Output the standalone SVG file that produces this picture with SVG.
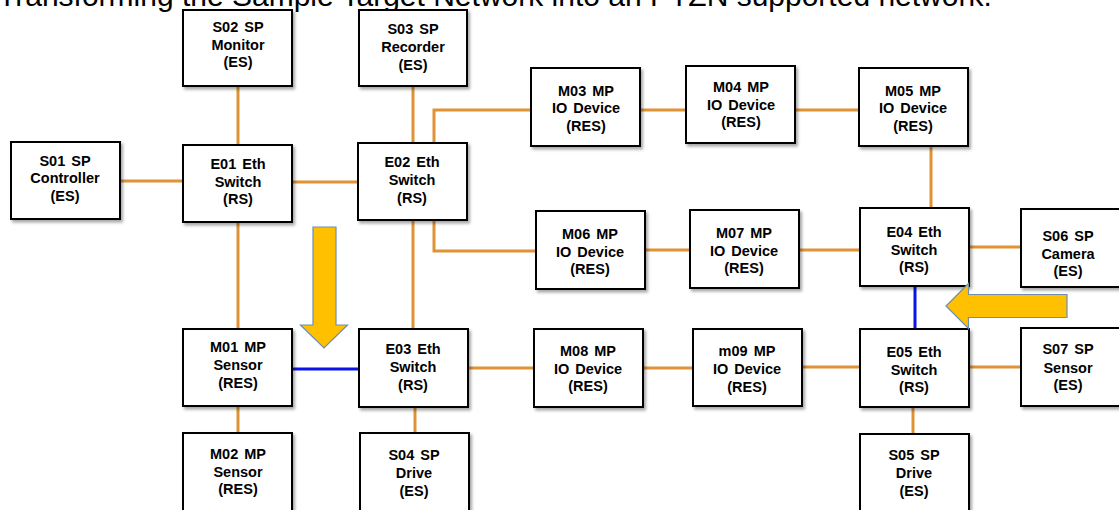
<svg xmlns="http://www.w3.org/2000/svg" width="1119" height="510" viewBox="0 0 1119 510">
  <defs>
    <filter id="shadow" x="-10%" y="-10%" width="130%" height="130%">
      <feDropShadow dx="2" dy="2.5" stdDeviation="1.5" flood-color="#000" flood-opacity="0.35"/>
    </filter>
    <style>
      .box { fill: #ffffff; stroke: #000000; stroke-width: 2; filter: url(#shadow); }
      .lbl { font-family: "Liberation Sans", Arial, sans-serif; font-weight: bold; font-size: 14.5px; fill: #000000; text-anchor: middle; word-spacing: 2px; }
      .title { font-family: "Liberation Sans", Arial, sans-serif; font-size: 30px; fill: #000000; }
      .link { fill: none; stroke: #DF9236; stroke-width: 3; }
      .blue { fill: none; stroke: #0A14E6; stroke-width: 3; }
      .bigarrow { fill: #FFC000; stroke: #6F8DB5; stroke-width: 1.2; stroke-linejoin: miter; }
    </style>
  </defs>

  <rect width="1119" height="510" fill="#ffffff"/>

  <!-- heading line, partly above the top edge -->
  <text class="title" x="-2" y="6">Transforming the Sample Target Network into an PTZN supported network.</text>

  <!-- links between devices -->
  <g id="connectors">
    <line class="link" x1="238" y1="86" x2="238" y2="145"/>
    <line class="link" x1="413" y1="86" x2="413" y2="143"/>
    <line class="link" x1="120" y1="181" x2="183" y2="181"/>
    <line class="link" x1="292" y1="182" x2="358" y2="182"/>
    <line class="link" x1="238" y1="222" x2="238" y2="329"/>
    <line class="link" x1="413" y1="220" x2="413" y2="329"/>
    <polyline class="link" points="434,143 434,110 531,110"/>
    <polyline class="link" points="434,220 434,251 536,251"/>
    <line class="link" x1="640" y1="110" x2="686" y2="110"/>
    <line class="link" x1="795" y1="110" x2="859" y2="110"/>
    <line class="link" x1="931" y1="146" x2="931" y2="208"/>
    <line class="link" x1="645" y1="250" x2="690" y2="250"/>
    <line class="link" x1="799" y1="250" x2="860" y2="250"/>
    <line class="link" x1="969" y1="247" x2="1021" y2="247"/>
    <line class="link" x1="468" y1="368" x2="534" y2="368"/>
    <line class="link" x1="643" y1="368" x2="693" y2="368"/>
    <line class="link" x1="802" y1="367" x2="860" y2="367"/>
    <line class="link" x1="969" y1="367" x2="1021" y2="367"/>
    <line class="link" x1="238" y1="406" x2="238" y2="433"/>
    <line class="link" x1="415" y1="407" x2="415" y2="433"/>
    <line class="link" x1="913" y1="407" x2="913" y2="433"/>
    <line class="blue" x1="292" y1="369" x2="359" y2="369"/>
    <line class="blue" x1="915" y1="286" x2="915" y2="329"/>
  </g>

  <g id="S02"><rect class="box" x="183" y="10" width="109" height="76"/>
    <text class="lbl" x="238" y="32">S02 SP</text><text class="lbl" x="238" y="50">Monitor</text><text class="lbl" x="238" y="67">(ES)</text></g>
  <g id="S03"><rect class="box" x="359" y="10" width="108" height="76"/>
    <text class="lbl" x="413" y="34">S03 SP</text><text class="lbl" x="413" y="52">Recorder</text><text class="lbl" x="413" y="70">(ES)</text></g>
  <g id="S01"><rect class="box" x="11" y="142" width="109" height="77"/>
    <text class="lbl" x="65" y="165.5">S01 SP</text><text class="lbl" x="65" y="183">Controller</text><text class="lbl" x="65" y="200.5">(ES)</text></g>
  <g id="E01"><rect class="box" x="183" y="145" width="109" height="77"/>
    <text class="lbl" x="238" y="169">E01 Eth</text><text class="lbl" x="238" y="187">Switch</text><text class="lbl" x="238" y="204">(RS)</text></g>
  <g id="E02"><rect class="box" x="358" y="143" width="109" height="77"/>
    <text class="lbl" x="412" y="167">E02 Eth</text><text class="lbl" x="412" y="185">Switch</text><text class="lbl" x="412" y="203">(RS)</text></g>
  <g id="M03"><rect class="box" x="531" y="68" width="109" height="78"/>
    <text class="lbl" x="586" y="96">M03 MP</text><text class="lbl" x="586" y="113">IO Device</text><text class="lbl" x="586" y="131">(RES)</text></g>
  <g id="M04"><rect class="box" x="686" y="66" width="109" height="77"/>
    <text class="lbl" x="741" y="92">M04 MP</text><text class="lbl" x="741" y="110">IO Device</text><text class="lbl" x="741" y="127">(RES)</text></g>
  <g id="M05"><rect class="box" x="859" y="68" width="109" height="78"/>
    <text class="lbl" x="913" y="96">M05 MP</text><text class="lbl" x="913" y="113">IO Device</text><text class="lbl" x="913" y="131">(RES)</text></g>
  <g id="M06"><rect class="box" x="536" y="211" width="109" height="78"/>
    <text class="lbl" x="590" y="239">M06 MP</text><text class="lbl" x="590" y="257">IO Device</text><text class="lbl" x="590" y="274">(RES)</text></g>
  <g id="M07"><rect class="box" x="690" y="210" width="109" height="78"/>
    <text class="lbl" x="744" y="238">M07 MP</text><text class="lbl" x="744" y="256">IO Device</text><text class="lbl" x="744" y="273">(RES)</text></g>
  <g id="E04"><rect class="box" x="860" y="208" width="109" height="78"/>
    <text class="lbl" x="914" y="236.5">E04 Eth</text><text class="lbl" x="914" y="254.5">Switch</text><text class="lbl" x="914" y="272">(RS)</text></g>
  <g id="S06"><rect class="box" x="1021" y="209" width="104" height="78"/>
    <text class="lbl" x="1068" y="241">S06 SP</text><text class="lbl" x="1068" y="259">Camera</text><text class="lbl" x="1068" y="276">(ES)</text></g>
  <g id="M01"><rect class="box" x="183" y="329" width="109" height="77"/>
    <text class="lbl" x="238" y="352">M01 MP</text><text class="lbl" x="238" y="370">Sensor</text><text class="lbl" x="238" y="387.5">(RES)</text></g>
  <g id="E03"><rect class="box" x="359" y="329" width="109" height="78"/>
    <text class="lbl" x="413" y="354">E03 Eth</text><text class="lbl" x="413" y="372">Switch</text><text class="lbl" x="413" y="389.5">(RS)</text></g>
  <g id="M08"><rect class="box" x="534" y="329" width="109" height="78"/>
    <text class="lbl" x="588" y="355.5">M08 MP</text><text class="lbl" x="588" y="373.5">IO Device</text><text class="lbl" x="588" y="391">(RES)</text></g>
  <g id="m09"><rect class="box" x="693" y="329" width="109" height="77"/>
    <text class="lbl" x="747" y="356">m09 MP</text><text class="lbl" x="747" y="374">IO Device</text><text class="lbl" x="747" y="391.5">(RES)</text></g>
  <g id="E05"><rect class="box" x="860" y="329" width="109" height="78"/>
    <text class="lbl" x="914" y="356.5">E05 Eth</text><text class="lbl" x="914" y="374.5">Switch</text><text class="lbl" x="914" y="392">(RS)</text></g>
  <g id="S07"><rect class="box" x="1021" y="328" width="104" height="78"/>
    <text class="lbl" x="1068" y="354">S07 SP</text><text class="lbl" x="1068" y="372.5">Sensor</text><text class="lbl" x="1068" y="390">(ES)</text></g>
  <g id="M02"><rect class="box" x="183" y="433" width="109" height="82"/>
    <text class="lbl" x="238" y="458.5">M02 MP</text><text class="lbl" x="238" y="476.5">Sensor</text><text class="lbl" x="238" y="494">(RES)</text></g>
  <g id="S04"><rect class="box" x="360" y="433" width="109" height="82"/>
    <text class="lbl" x="414" y="460">S04 SP</text><text class="lbl" x="414" y="478">Drive</text><text class="lbl" x="414" y="495.5">(ES)</text></g>
  <g id="S05"><rect class="box" x="860" y="434" width="109" height="82"/>
    <text class="lbl" x="914" y="460">S05 SP</text><text class="lbl" x="914" y="478">Drive</text><text class="lbl" x="914" y="495.5">(ES)</text></g>

  <!-- block arrows marking the changed links -->
  <g id="arrow-down">
    <polygon class="bigarrow" points="313,227 336,227 336,325 347.5,325 324,348 300.5,325 313,325"/>
  </g>
  <g id="arrow-left">
    <polygon class="bigarrow" points="1067,294.5 1067,317.5 968.5,317.5 968.5,328.5 946,306 968.5,283.5 968.5,294.5"/>
  </g>
</svg>
